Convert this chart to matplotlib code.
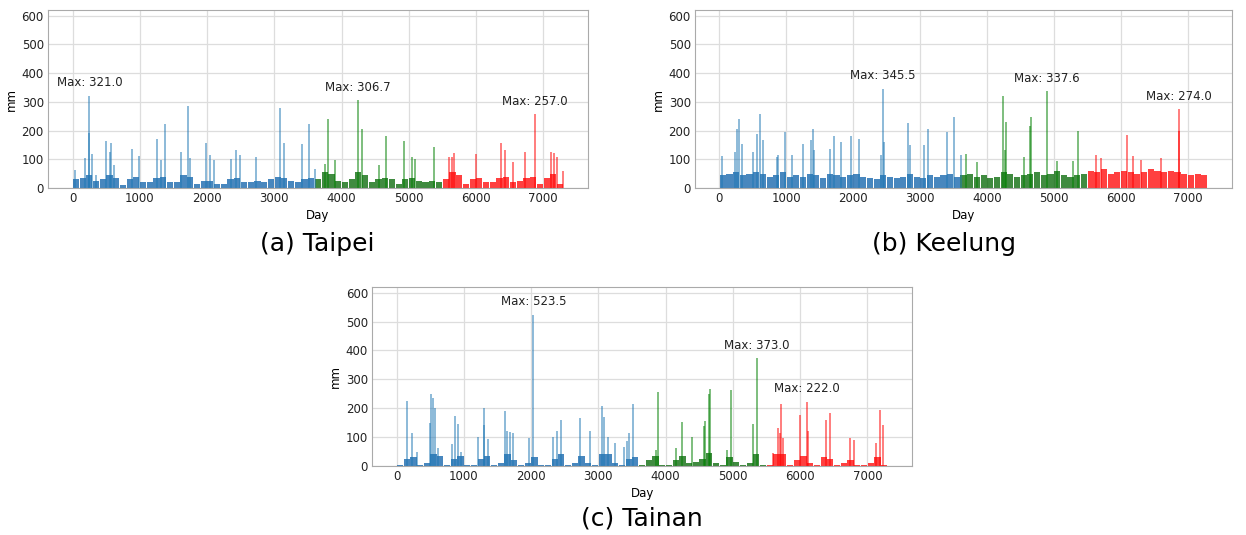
import numpy as np
import matplotlib
matplotlib.use("Agg")
from matplotlib import pyplot as plt

# split points (days) between the three coloured parts
split1 = 3650
split2 = 5475
last_day = 7300

# background level of the dense part, one value per 100-day block
bg_taipei = [30, 35, 45, 25, 30, 45, 35, 10, 30, 40, 20, 20, 35, 40, 20, 20, 45, 40, 15,
             25, 25, 15, 15, 30, 35, 20, 20, 25, 20, 30, 40, 35, 25, 20, 30, 35, 30,
             55, 50, 25, 20, 30, 55, 45, 20, 30, 35, 30, 15, 30, 35, 25, 20, 25, 20,
             30, 55, 45, 15, 30, 35, 20, 20, 35, 40, 20, 25, 35, 40, 15, 35, 50, 15]
bg_keelung = [45, 50, 55, 45, 50, 55, 50, 40, 45, 55, 40, 45, 40, 50, 45, 35, 50, 45, 40,
              45, 50, 40, 35, 30, 45, 40, 35, 40, 50, 40, 35, 45, 40, 45, 50, 40, 45,
              50, 40, 45, 35, 40, 55, 50, 40, 45, 50, 55, 45, 50, 60, 45, 40, 45, 50,
              60, 55, 65, 50, 55, 60, 55, 50, 55, 65, 60, 55, 60, 55, 50, 45, 50, 45]
bg_tainan = [5, 25, 30, 5, 10, 40, 35, 5, 25, 35, 5, 5, 25, 35, 5, 10, 40, 20, 3,
             10, 30, 5, 3, 25, 40, 5, 10, 35, 10, 5, 40, 40, 10, 5, 25, 30, 5,
             20, 35, 5, 5, 20, 35, 10, 15, 25, 45, 10, 5, 30, 15, 5, 10, 40, 5,
             5, 40, 40, 5, 20, 35, 10, 5, 30, 25, 5, 10, 20, 5, 3, 10, 30, 5]

# single tall days (day, mm)
spike_day_taipei = [40, 183, 238, 252, 297, 351, 505, 560, 579, 620, 891, 990, 1257, 1312,
                    1376, 1609, 1723, 1747, 1980, 2040, 2104, 2361, 2436, 2490, 2733,
                    3084, 3140, 3410, 3520, 3600,
                    3750, 3801, 3900, 4238, 4298, 4550, 4660, 4923, 5043, 5100, 5380,
                    5600, 5643, 5678, 6000, 6373, 6438, 6550, 6731, 6875, 7118, 7160,
                    7202, 7290]
spike_mm_taipei = [63, 104, 193, 321.0, 119, 45, 163, 127, 156, 80, 136, 113, 171, 98,
                   222, 127, 284, 104, 156, 115, 98, 101, 131, 115, 107,
                   278, 157, 155, 222, 66,
                   85, 242, 97, 306.7, 204, 80, 181, 163, 109, 101, 144,
                   109, 109, 123, 120, 158, 132, 92, 126, 257.0, 126, 123,
                   109, 60]

spike_day_keelung = [39, 236, 256, 296, 335, 507, 557, 606, 645, 862, 882, 975, 1079,
                     1246, 1365, 1394, 1420, 1660, 1709, 1823, 1970, 2084, 2420, 2448,
                     2463, 2818, 2857, 3064, 3118, 3404, 3512, 3616,
                     3693, 3850, 4238, 4270, 4290, 4555, 4640, 4660, 4892, 5050, 5290,
                     5363, 5636, 5700, 6097, 6180, 6300, 6600, 6865, 6876]
spike_mm_keelung = [111, 126, 204, 240, 155, 126, 187, 258, 167, 107, 115, 194, 116,
                    153, 167, 205, 132, 137, 180, 161, 181, 169, 115, 345.5,
                    161, 225, 150, 150, 204, 196, 248, 115,
                    118, 90, 320, 132, 230, 107, 216, 248, 337.6, 95, 94,
                    200, 115, 106, 184, 111, 97, 106, 200, 274.0]

spike_day_tainan = [159, 229, 309, 503, 508, 543, 578, 618, 817, 867, 917, 957, 1216,
                    1295, 1305, 1355, 1614, 1644, 1689, 1729, 1973, 2033, 2332, 2387,
                    2446, 2730, 2870, 3059, 3084, 3139, 3244, 3388, 3428, 3463, 3522,
                    3860, 3885, 4160, 4244, 4394, 4569, 4589, 4638, 4658, 4908, 4973,
                    5297, 5362,
                    5596, 5671, 5696, 5721, 5741, 6005, 6100, 6120, 6389, 6444, 6738,
                    6808, 7132, 7187, 7227]
spike_mm_tainan = [224, 114, 50, 149, 250, 234, 201, 62, 76, 174, 147, 50, 100,
                   143, 201, 93, 190, 120, 116, 114, 97, 523.5, 100, 120,
                   160, 166, 120, 209, 170, 102, 79, 67, 85, 114, 213,
                   56, 256, 62, 151, 100, 137, 156, 250, 267, 56, 262,
                   146, 373.0,
                   44, 131, 114, 215, 96, 178, 222.0, 120, 158, 183, 96,
                   91, 79, 193, 143]

names = ["(a) Taipei", "(b) Keelung", "(c) Tainan"]
backgrounds = [bg_taipei, bg_keelung, bg_tainan]
spike_days = [spike_day_taipei, spike_day_keelung, spike_day_tainan]
spike_mms = [spike_mm_taipei, spike_mm_keelung, spike_mm_tainan]

light = ["#1f77b4", "green", "red"]
dark = ["#0a5fa8", "#006400", "#ff0000"]

fig = plt.figure(figsize=(12.46, 5.35), dpi=100)
boxes = [[0.0385, 0.6486, 0.4334, 0.3327],
         [0.5578, 0.6486, 0.4310, 0.3327],
         [0.2986, 0.1290, 0.4334, 0.3346]]
captions = [(0.255, 0.544), (0.758, 0.544), (0.515, 0.030)]

for i in range(3):
    ax = fig.add_axes(boxes[i])
    bg = np.array(backgrounds[i], dtype=float)
    centers = np.arange(len(bg)) * 100 + 50
    sd = np.array(spike_days[i])
    sm = np.array(spike_mms[i], dtype=float)
    parts = [(0, split1), (split1, split2), (split2, last_day + 1)]
    for k, (lo, hi) in enumerate(parts):
        m = (centers >= lo) & (centers < hi)
        ax.bar(centers[m], bg[m], width=92, color=dark[k], alpha=0.75, linewidth=0)
        m2 = (sd >= lo) & (sd < hi)
        ax.vlines(sd[m2], 0, sm[m2], color=light[k], alpha=0.55, linewidth=1.3)
        # label the highest day of each part
        j = np.argmax(np.where(m2, sm, -1))
        ax.text(sd[j], sm[j] + 45, "Max: %.1f" % sm[j], ha="center", va="center",
                fontsize=8.5, color="#222222")
    ax.set_xlim(-365, 7665)
    ax.set_ylim(0, 620)
    ax.set_xticks(range(0, 7001, 1000))
    ax.set_yticks(range(0, 601, 100))
    ax.grid(True, color="#dddddd", linewidth=0.9)
    ax.set_axisbelow(True)
    ax.tick_params(length=0, labelsize=8.5, colors="#222222", pad=3)
    for s in ax.spines.values():
        s.set_color("#aaaaaa")
    ax.set_xlabel("Day", fontsize=8.5, labelpad=3)
    ax.set_ylabel("mm", fontsize=8.5, labelpad=3)
    fig.text(captions[i][0], captions[i][1], names[i], ha="center", va="center",
             fontsize=18)

fig.savefig("out.png", dpi=100)
